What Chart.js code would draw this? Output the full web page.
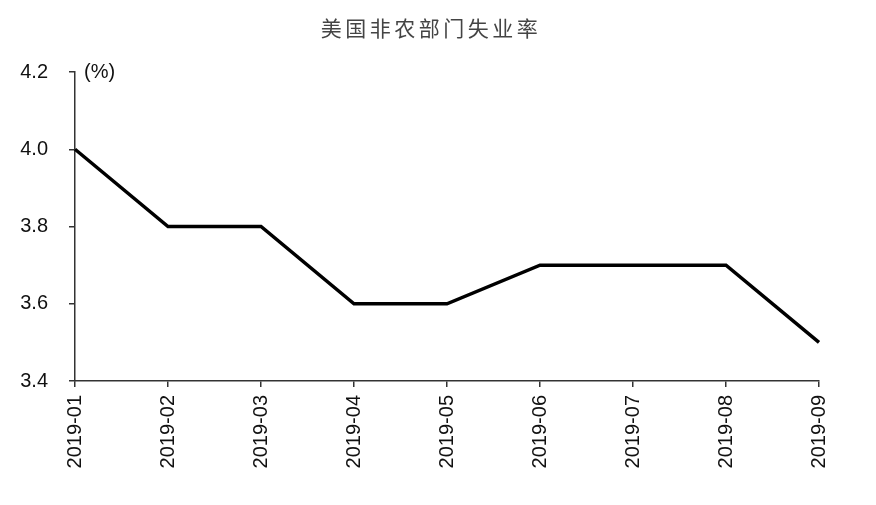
<!DOCTYPE html>
<html>
<head>
<meta charset="utf-8">
<script src="https://cdn.jsdelivr.net/npm/chart.js@4"></script>
<style>
  html, body { margin: 0; padding: 0; background: #fff; }
  #wrap { width: 876px; height: 505px; position: relative; }
</style>
</head>
<body>
<div id="wrap"><canvas id="chart"></canvas></div>
<script>
// chart data
const months = ['2019-01', '2019-02', '2019-03', '2019-04', '2019-05', '2019-06', '2019-07', '2019-08', '2019-09'];
const unemploymentRate = [4.0, 3.8, 3.8, 3.6, 3.6, 3.7, 3.7, 3.7, 3.5];
const chartTitle = '美国非农部门失业率';
const unitLabel = '(%)';

// title (with letter spacing) and the unit label beside the y axis
const textPlugin = {
    id: 'extraText',
    afterDraw(chart) {
        const ctx = chart.ctx;
        const area = chart.chartArea;
        ctx.save();
        ctx.font = '21px "Noto Sans CJK SC", sans-serif';
        ctx.fillStyle = '#444';
        ctx.textAlign = 'center';
        ctx.textBaseline = 'middle';
        ctx.letterSpacing = '3.5px';
        ctx.fillText(chartTitle, 431, 28);
        ctx.letterSpacing = '0px';

        ctx.font = '20px "Liberation Sans", Arial, sans-serif';
        ctx.fillStyle = '#111';
        ctx.textAlign = 'left';
        ctx.fillText(unitLabel, area.left + 9, area.top);
        ctx.restore();
    }
};

const ctx = document.getElementById('chart').getContext('2d');
new Chart(ctx, {
    type: 'line',
    data: {
        labels: months,
        datasets: [{
            data: unemploymentRate,
            borderColor: '#000',
            borderWidth: 3.5,
            pointRadius: 0,
            tension: 0,
            fill: false
        }]
    },
    options: {
        responsive: true,
        maintainAspectRatio: false,
        animation: false,
        layout: {
            padding: { left: 0, right: 57, top: 72, bottom: 0 }
        },
        plugins: {
            legend: { display: false },
            tooltip: { enabled: false },
            title: { display: false }
        },
        scales: {
            x: {
                offset: false,
                grid: { drawOnChartArea: false, drawTicks: true, tickLength: 6, color: '#333', lineWidth: 1.5 },
                border: { display: true, color: '#333', width: 1.5 },
                ticks: {
                    color: '#111',
                    font: { family: '"Liberation Sans", Arial, sans-serif', size: 20 },
                    minRotation: 90,
                    maxRotation: 90,
                    padding: 8,
                    autoSkip: false
                },
                afterFit(scale) { scale.height = 124; }
            },
            y: {
                min: 3.4,
                max: 4.2,
                grid: { drawOnChartArea: false, drawTicks: true, tickLength: 6, color: '#333', lineWidth: 1.5 },
                border: { display: true, color: '#333', width: 1.5 },
                ticks: {
                    stepSize: 0.2,
                    color: '#111',
                    padding: 21,
                    font: { family: '"Liberation Sans", Arial, sans-serif', size: 20 },
                    callback: value => value.toFixed(1)
                },
                afterFit(scale) { scale.width = 75; }
            }
        }
    },
    plugins: [textPlugin]
});
</script>
</body>
</html>
